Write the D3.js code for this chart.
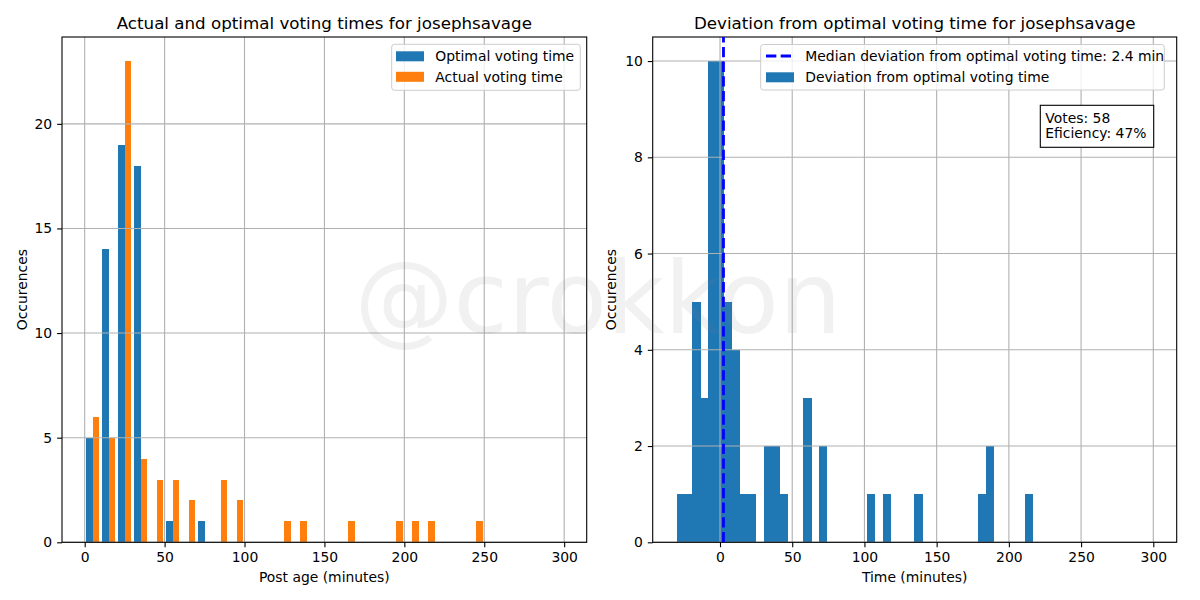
<!DOCTYPE html>
<html>
<head>
<meta charset="utf-8">
<script src="https://cdn.jsdelivr.net/npm/d3@7"></script>
<style>
  html, body { margin: 0; padding: 0; background: #fff; }
  svg { display: block; font-family: "DejaVu Sans", sans-serif; }
</style>
</head>
<body>
<svg id="chart" width="1200" height="600"></svg>
<script>
// ---------- data ----------
const userName = "josephsavage";
// left histogram: bins of 10 minutes starting at 0
const ageBinStart = 0;
const ageBinWidth = 10;
const optimalCounts = [5, 14, 19, 18, 0, 1, 0, 1, 0, 0, 0, 0, 0, 0, 0, 0, 0, 0, 0, 0, 0, 0, 0, 0, 0, 0, 0, 0, 0, 0];
const actualCounts  = [6, 5, 23, 4, 3, 3, 2, 0, 3, 2, 0, 0, 1, 1, 0, 0, 1, 0, 0, 1, 1, 1, 0, 0, 1, 0, 0, 0, 0, 0];
const seriesNames = ["Optimal voting time", "Actual voting time"];
// right histogram: deviation from optimal voting time
const devBinStart = -30.1;
const devBinWidth = 5.487;
const devCounts = [1, 1, 5, 3, 10, 10, 5, 4, 1, 1,
                   0, 2, 2, 1, 0, 0, 3, 0, 2, 0,
                   0, 0, 0, 0, 1, 0, 1, 0, 0, 0,
                   1, 0, 0, 0, 0, 0, 0, 0, 1, 2,
                   0, 0, 0, 0, 1];
const medianDeviation = 2.4;
const votes = 58;
const efficiency = 47;
const leftXTicks = [0, 50, 100, 150, 200, 250, 300];
const leftYTicks = [0, 5, 10, 15, 20];
const rightXTicks = [0, 50, 100, 150, 200, 250, 300];
const rightYTicks = [0, 2, 4, 6, 8, 10];

// ---------- style ----------
const C_BLUE = "#1f77b4", C_ORANGE = "#ff7f0e", C_GRID = "#b0b0b0";
const FS = 13.9, FS_TITLE = 16.7;

const svg = d3.select("#chart");

function drawAxes(g, x, y, xTicks, yTicks, opts) {
  const [x0, x1] = x.range();
  const [y0, y1] = y.range();
  const grid = opts.gridLayer;
  grid.selectAll("line.gx").data(xTicks).join("line")
    .attr("class", "gx")
    .attr("x1", d => x(d)).attr("x2", d => x(d))
    .attr("y1", y0).attr("y2", y1)
    .attr("stroke", C_GRID).attr("stroke-width", 1.1);
  grid.selectAll("line.gy").data(yTicks).join("line")
    .attr("class", "gy")
    .attr("x1", x0).attr("x2", x1)
    .attr("y1", d => y(d)).attr("y2", d => y(d))
    .attr("stroke", C_GRID).attr("stroke-width", 1.1);

  const xAxis = g.append("g").attr("transform", `translate(0,${y0})`)
    .call(d3.axisBottom(x).tickValues(xTicks).tickSize(4.9).tickPadding(4.9).tickFormat(d3.format("d")));
  const yAxis = g.append("g").attr("transform", `translate(${x0},0)`)
    .call(d3.axisLeft(y).tickValues(yTicks).tickSize(4.9).tickPadding(4.9).tickFormat(d3.format("d")));
  [xAxis, yAxis].forEach(a => {
    a.select(".domain").remove();
    a.selectAll(".tick line").attr("stroke", "#000").attr("stroke-width", 1.1);
    a.selectAll(".tick text").attr("fill", "#000")
      .style("font-family", "DejaVu Sans").style("font-size", FS + "px");
  });
  g.append("rect").attr("x", x0).attr("y", y1).attr("width", x1 - x0).attr("height", y0 - y1)
    .attr("fill", "none").attr("stroke", "#000").attr("stroke-width", 1.1);
  const cx = (x0 + x1) / 2;
  g.append("text").attr("x", cx).attr("y", 29).attr("text-anchor", "middle")
    .style("font-size", FS_TITLE + "px").text(opts.title);
  g.append("text").attr("x", cx).attr("y", 582).attr("text-anchor", "middle")
    .style("font-size", FS + "px").text(opts.xLabel);
  g.append("text").attr("transform", `translate(${opts.yLabelX},${(y0 + y1) / 2}) rotate(-90)`)
    .attr("text-anchor", "middle").style("font-size", FS + "px").text(opts.yLabel);
}

// ---------- left chart ----------
const xL = d3.scaleLinear().domain([-14.2, 314.1]).range([62, 586.7]);
const yL = d3.scaleLinear().domain([0, 24.15]).range([542.3, 37]);
const gL = svg.append("g");
const barsL = gL.append("g").attr("shape-rendering", "crispEdges");
const gridL = gL.append("g");

const leftRows = optimalCounts.map((c, i) => ({
  x0: ageBinStart + i * ageBinWidth,
  vals: [c, actualCounts[i]]
}));
const subW = 0.8 * ageBinWidth / 2;
[C_BLUE, C_ORANGE].forEach((col, s) => {
  barsL.append("g").selectAll("rect").data(leftRows.filter(r => r.vals[s] > 0)).join("rect")
    .attr("x", r => xL(r.x0 + 0.1 * ageBinWidth + s * subW))
    .attr("width", r => xL(r.x0 + 0.1 * ageBinWidth + (s + 1) * subW) - xL(r.x0 + 0.1 * ageBinWidth + s * subW))
    .attr("y", r => yL(r.vals[s]))
    .attr("height", r => yL(0) - yL(r.vals[s]))
    .attr("fill", col);
});
drawAxes(gL, xL, yL, leftXTicks, leftYTicks, {
  gridLayer: gridL,
  title: "Actual and optimal voting times for " + userName,
  xLabel: "Post age (minutes)", yLabel: "Occurences", yLabelX: 27
});

const legL = gL.append("g");
legL.append("rect").attr("x", 391.7).attr("y", 44.3).attr("width", 188.6).attr("height", 46)
  .attr("rx", 2.8).attr("fill", "#fff").attr("fill-opacity", 0.8).attr("stroke", "#cccccc").attr("stroke-width", 1);
seriesNames.forEach((n, i) => {
  const by = 61.3 + i * 20.5;
  legL.append("rect").attr("x", 396).attr("y", by - 10).attr("width", 28).attr("height", 10)
    .attr("fill", i === 0 ? C_BLUE : C_ORANGE);
  legL.append("text").attr("x", 435.3).attr("y", by).style("font-size", FS + "px").text(n);
});

// ---------- right chart ----------
const xR = d3.scaleLinear().domain([-46.6, 316.2]).range([652.7, 1176.7]);
const yR = d3.scaleLinear().domain([0, 10.5]).range([542.3, 37]);
const gR = svg.append("g");
const barsR = gR.append("g").attr("shape-rendering", "crispEdges");
const gridR = gR.append("g");
const devRows = devCounts.map((c, i) => ({ a: devBinStart + i * devBinWidth, b: devBinStart + (i + 1) * devBinWidth, c }));
barsR.selectAll("rect").data(devRows.filter(r => r.c > 0)).join("rect")
  .attr("x", r => xR(r.a))
  .attr("width", r => xR(r.b) - xR(r.a) + 0.3)
  .attr("y", r => yR(r.c))
  .attr("height", r => yR(0) - yR(r.c))
  .attr("fill", C_BLUE);
drawAxes(gR, xR, yR, rightXTicks, rightYTicks, {
  gridLayer: gridR,
  title: "Deviation from optimal voting time for " + userName,
  xLabel: "Time (minutes)", yLabel: "Occurences", yLabelX: 616
});
gR.append("line").attr("x1", xR(medianDeviation)).attr("x2", xR(medianDeviation))
  .attr("y1", yR.range()[0]).attr("y2", yR.range()[1])
  .attr("stroke", "#0000ff").attr("stroke-width", 2.8).attr("stroke-dasharray", "10.3,4.4");

const legR = gR.append("g");
legR.append("rect").attr("x", 760.7).attr("y", 44.5).attr("width", 403.6).attr("height", 45.5)
  .attr("rx", 2.8).attr("fill", "#fff").attr("fill-opacity", 0.8).attr("stroke", "#cccccc").attr("stroke-width", 1);
legR.append("line").attr("x1", 766).attr("x2", 794).attr("y1", 56).attr("y2", 56)
  .attr("stroke", "#0000ff").attr("stroke-width", 2.8).attr("stroke-dasharray", "10.3,4.4");
legR.append("text").attr("x", 805.3).attr("y", 61.3).style("font-size", FS + "px")
  .text(`Median deviation from optimal voting time: ${medianDeviation} min`);
legR.append("rect").attr("x", 766).attr("y", 72.3).attr("width", 28).attr("height", 10).attr("fill", C_BLUE);
legR.append("text").attr("x", 805.3).attr("y", 81.8).style("font-size", FS + "px")
  .text("Deviation from optimal voting time");

const info = gR.append("g");
info.append("rect").attr("x", 1040.3).attr("y", 105.3).attr("width", 113.4).attr("height", 42)
  .attr("fill", "#fff").attr("stroke", "#000").attr("stroke-width", 1.1);
info.append("text").attr("x", 1045.3).attr("y", 122.5).style("font-size", FS + "px").text(`Votes: ${votes}`);
info.append("text").attr("x", 1045.3).attr("y", 137.9).style("font-size", FS + "px").text(`Eficiency: ${efficiency}%`);

// watermark
svg.append("text").attr("x", 598).attr("y", 333).attr("text-anchor", "middle")
  .style("font-size", "99px").attr("fill", "#808080").attr("fill-opacity", 0.11)
  .text("@crokkon");
</script>
</body>
</html>
